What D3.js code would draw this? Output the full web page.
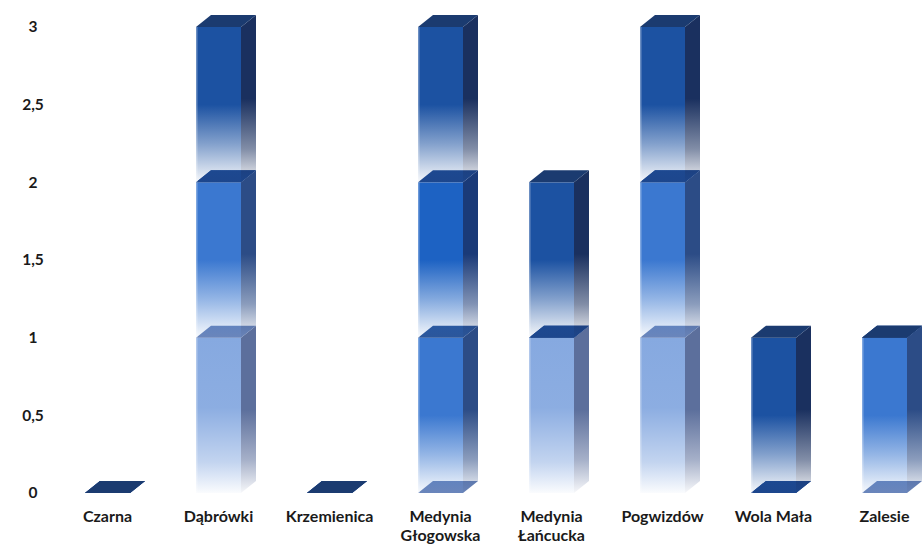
<!DOCTYPE html>
<html><head><meta charset="utf-8">
<script src="https://cdnjs.cloudflare.com/ajax/libs/d3/7.8.5/d3.min.js"></script>
<style>
html,body{margin:0;padding:0;background:#fff;}
svg{display:block;}
text{font-family:Lato,"Open Sans",sans-serif;font-weight:700;fill:#1a1a1a;}
</style></head>
<body>
<svg id="chart" width="924" height="547"></svg>
<script>
const categories = ["Czarna","Dąbrówki","Krzemienica","Medynia Głogowska","Medynia Łańcucka","Pogwizdów","Wola Mała","Zalesie"];
const seriesNames = ["s1","s2","s3","s4"];
const s1 = [0,1,0,0,1,1,0,0];
const s2 = [0,1,0,1,0,1,0,1];
const s3 = [0,0,0,1,0,0,0,0];
const s4 = [0,1,0,1,1,1,1,0];
const tickValues = [0,0.5,1,1.5,2,2.5,3];
const tickLabels = ["0","0,5","1","1,5","2","2,5","3"];

const seriesValues = [s1,s2,s3,s4];
const colors = {
  s1:{front:"#86a9e0", side:"#5c6f9c", cap:"#6c86ba"},
  s2:{front:"#3b78d0", side:"#2c4c86", cap:"#2c5699"},
  s3:{front:"#1d62c3", side:"#1a3a78", cap:"#1d468c"},
  s4:{front:"#1c52a2", side:"#1a305f", cap:"#1b3b70"}
};

const rows = categories.map((c,i)=>{
  const o={cat:c};
  seriesNames.forEach((k,j)=>o[k]=seriesValues[j][i]);
  return o;
});

const svg = d3.select("#chart");
const y = d3.scaleLinear().domain([0,3]).range([493,27]);
const x = d3.scalePoint().domain(categories).range([107.5,884.5]);
const barW = 45, dx = 15, dy = 12;

const defs = svg.append("defs");
seriesNames.forEach(k=>{
  const c = colors[k];
  const gf = defs.append("linearGradient").attr("id","f_"+k).attr("x1",0).attr("y1",0).attr("x2",0).attr("y2",1);
  const fs = k==="s1"
    ? [[0,c.front,1],[0.45,c.front,0.95],[0.8,c.front,0.5],[1,c.front,0.04]]
    : [[0,c.front,1],[0.5,c.front,1],[0.75,c.front,0.55],[1,c.front,0.04]];
  fs.forEach(s=>gf.append("stop").attr("offset",s[0]).attr("stop-color",s[1]).attr("stop-opacity",s[2]));
  const gs = defs.append("linearGradient").attr("id","s_"+k).attr("x1",0).attr("y1",0).attr("x2",0).attr("y2",1);
  [[0,c.side,1],[0.5,c.side,1],[0.8,c.side,0.55],[1,c.side,0.05]]
    .forEach(s=>gs.append("stop").attr("offset",s[0]).attr("stop-color",s[1]).attr("stop-opacity",s[2]));
});

const stacked = d3.stack().keys(seriesNames)(rows);

const g = svg.append("g");
categories.forEach((cat,ci)=>{
  const cx = x(cat), x0 = cx - barW/2, x1 = cx + barW/2;
  stacked.forEach(layer=>{
    const k = layer.key;
    const d = layer[ci];
    const yb = y(d[0]), yt = y(d[1]);
    if (d[1]-d[0] > 0) {
      g.append("rect").attr("x",x0).attr("y",yt).attr("width",barW).attr("height",yb-yt)
        .attr("fill","url(#f_"+k+")");
      g.append("rect").attr("x",x0).attr("y",yt).attr("width",1.5).attr("height",yb-yt)
        .attr("fill","#ffffff").attr("opacity",0.35);
      g.append("path").attr("d",`M${x1},${yt}L${x1+dx},${yt-dy}L${x1+dx},${yb-dy}L${x1},${yb}Z`)
        .attr("fill","url(#s_"+k+")");
    }
    g.append("path").attr("d",`M${x0},${yt}L${x1},${yt}L${x1+dx},${yt-dy}L${x0+dx},${yt-dy}Z`)
      .attr("fill",colors[k].cap);
  });
});

// y axis
const yAxis = d3.axisLeft(y).tickValues(tickValues).tickSize(0)
  .tickFormat((d,i)=>tickLabels[i]);
const ya = svg.append("g").attr("transform","translate(44,0)").call(yAxis);
ya.select(".domain").remove();
ya.selectAll("text").attr("font-size",15.5).attr("font-family","Lato,sans-serif").attr("font-weight",700)
  .attr("fill","#1a1a1a").attr("x",-11).attr("text-anchor","middle");

// x labels
const labelLines = {"Medynia Głogowska":["Medynia","Głogowska"],"Medynia Łańcucka":["Medynia","Łańcucka"]};
categories.forEach(cat=>{
  const lines = labelLines[cat] || [cat];
  const t = svg.append("text").attr("x",x(cat)).attr("y",522).attr("text-anchor","middle").attr("font-size",16);
  lines.forEach((l,i)=>t.append("tspan").attr("x",x(cat)).attr("dy",i===0?0:19).text(l));
});
</script>
</body></html>
